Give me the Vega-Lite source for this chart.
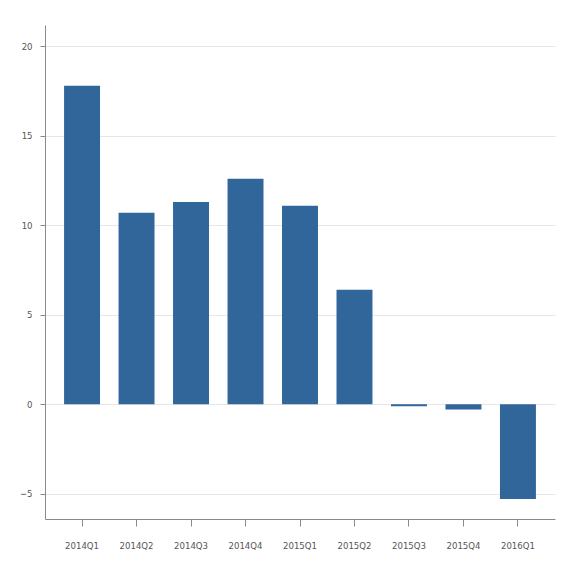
{
  "$schema": "https://vega.github.io/schema/vega-lite/v6.json",
  "autosize": "none",
  "width": 510,
  "height": 494,
  "padding": {"left": 45, "top": 25, "right": 18, "bottom": 48},
  "background": "#ffffff",
  "config": {
    "view": {"stroke": null},
    "font": "DejaVu Sans Condensed, Liberation Sans, sans-serif",
    "axis": {
      "labelFont": "DejaVu Sans Condensed, Liberation Sans, sans-serif",
      "labelFontSize": 9.5,
      "labelColor": "#555555",
      "domainColor": "#8a8a8a",
      "tickColor": "#8a8a8a",
      "gridColor": "#e6e6e6",
      "title": null
    }
  },
  "data": {
    "values": [
      {"quarter": "2014Q1", "value": 17.8},
      {"quarter": "2014Q2", "value": 10.7},
      {"quarter": "2014Q3", "value": 11.3},
      {"quarter": "2014Q4", "value": 12.6},
      {"quarter": "2015Q1", "value": 11.1},
      {"quarter": "2015Q2", "value": 6.4},
      {"quarter": "2015Q3", "value": -0.12},
      {"quarter": "2015Q4", "value": -0.3},
      {"quarter": "2016Q1", "value": -5.3}
    ]
  },
  "mark": {"type": "bar", "color": "#30669a"},
  "encoding": {
    "x": {
      "field": "quarter",
      "type": "ordinal",
      "sort": null,
      "scale": {"paddingInner": 0.34, "paddingOuter": 0.35},
      "axis": {"labelAngle": 0, "tickSize": 7, "labelPadding": 14, "grid": false}
    },
    "y": {
      "field": "value",
      "type": "quantitative",
      "scale": {"domain": [-6.42, 21.2], "nice": false, "zero": false},
      "axis": {"values": [-5, 0, 5, 10, 15, 20], "tickSize": 5, "labelPadding": 8, "grid": true}
    }
  }
}
